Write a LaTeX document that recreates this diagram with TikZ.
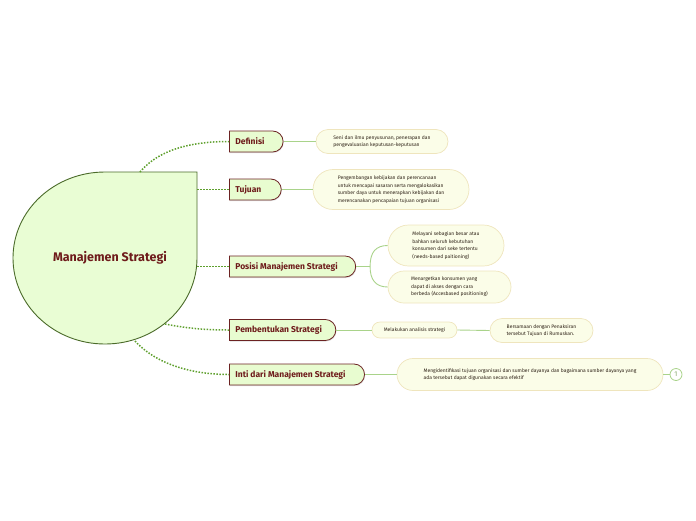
\documentclass[tikz,border=0pt]{standalone}
\usepackage{fontspec}
\setmainfont{Fira Sans}
\usetikzlibrary{shapes.misc,shadows}
\definecolor{cfill}{HTML}{E9FDD4}
\definecolor{cborder}{HTML}{4B6B2A}
\definecolor{bfill}{HTML}{E8FCD0}
\definecolor{bborder}{HTML}{6B2222}
\definecolor{btext}{HTML}{6E1B1B}
\definecolor{dotgreen}{HTML}{5FA02E}
\definecolor{lgreen}{HTML}{A9D38A}
\definecolor{lfill}{HTML}{FBFDE8}
\definecolor{lborder}{HTML}{EFE5BD}
\definecolor{ltext}{HTML}{2E2216}
\newcommand{\padr}[1]{\rule{#1}{0pt}}
\begin{document}
\begin{tikzpicture}[x=1pt,y=-1pt,
  branch/.style={rounded rectangle, rounded rectangle left arc=none, draw=bborder, fill=bfill,
    line width=0.8pt, font=\bfseries\fontsize{8.5}{10}\selectfont, text=btext,
    minimum height=21pt, inner xsep=6pt, anchor=west,
    drop shadow={opacity=0.25, shadow xshift=0.6pt, shadow yshift=-1pt}},
  leaf/.style={rounded rectangle, draw=lborder, fill=lfill, line width=0.7pt,
    font=\fontsize{5}{7.5}\selectfont, text=ltext, align=left, inner sep=0pt},
  dotcon/.style={draw=dotgreen, line width=1.5pt, dash pattern=on 1.5pt off 1.5pt},
  leafcon/.style={draw=lgreen, line width=0.9pt}]
\useasboundingbox (0,0) rectangle (696,520);
% central shape
\filldraw[fill=cfill, draw=cborder, line width=0.9pt]
  (197,172) -- (197,258) .. controls (197,305.5) and (155.8,344) .. (105,344)
  .. controls (54.2,344) and (13,305.5) .. (13,258)
  .. controls (13,210.5) and (54.2,172) .. (105,172) -- cycle;
\node[font=\bfseries\fontsize{12.5}{14}\selectfont, text=btext] (center) at (110,258) {Manajemen Strategi};
\coordinate (c1) at (140,172);
\coordinate (c2) at (197,189.5);
\coordinate (c3) at (197,266.5);
\coordinate (c4) at (165,324);
\coordinate (c5) at (135,341);
% branches
\node[branch] (def) at (229,141.5) {Definisi\padr{12pt}};
\node[branch] (tuj) at (229,189.5) {Tujuan\padr{13pt}};
\node[branch] (pos) at (229,266.5) {Posisi Manajemen Strategi\padr{11pt}};
\node[branch] (pem) at (229,330) {Pembentukan Strategi\padr{7pt}};
\node[branch] (inti) at (229,374.5) {Inti dari Manajemen Strategi\padr{12pt}};
% dotted connectors
\draw[dotcon] (c1) .. controls (160,148) and (195,141.5) .. (def.west);
\draw[dotcon] (c2) -- (tuj.west);
\draw[dotcon] (c3) -- (pos.west);
\draw[dotcon] (c4) .. controls (190,329) and (210,330) .. (pem.west);
\draw[dotcon] (c5) .. controls (160,368) and (200,374.5) .. (inti.west);
% leaves
\node[leaf, minimum width=132pt, minimum height=24pt] (d1) at (382,141.5)
  {Seni dan ilmu penyusunan, penerapan dan\\pengevaluasian keputusan-keputusan};
\node[leaf, minimum width=156pt, minimum height=40pt] (t1) at (391,189.5)
  {Pengembangan kebijakan dan perencanaan\\untuk mencapai sasaran serta mengalokasikan\\sumber daya untuk menerapkan kebijakan dan\\merencanakan pencapaian tujuan organisasi};
\node[leaf, minimum width=116pt, minimum height=41pt] (p1) at (446,245.5)
  {Melayani sebagian besar atau\\bahkan seluruh kebutuhan\\konsumen dari seke tertentu\\(needs-based paitioning)};
\node[leaf, minimum width=123pt, minimum height=32pt] (p2) at (449.5,287)
  {Menargetkan konsumen yang\\dapat di akses dengan cara\\berbeda (Accesbased positioning)};
\node[leaf, minimum width=85pt, minimum height=16pt] (b1) at (414.5,330)
  {Melakukan analisis strategi};
\node[leaf, minimum width=103pt, minimum height=24pt] (b2) at (541.5,330.5)
  {Bersamaan dengan Penaksiran\\tersebut Tujuan di Rumuskan.};
\node[leaf, minimum width=266pt, minimum height=32pt] (i1) at (530,374.5)
  {Mengidentifikasi tujuan organisasi dan sumber dayanya dan bagaimana sumber dayanya yang\\ada tersebut dapat digunakan secara efektif};
\node[circle, draw=lgreen, line width=0.8pt, fill=white, minimum size=12pt, inner sep=0pt,
  font=\fontsize{7}{8}\selectfont, text=lgreen!80!black] (n1) at (676,374.5) {1};
% leaf connectors
\draw[leafcon] (def.east) -- (d1.west);
\draw[leafcon] (tuj.east) -- (t1.west);
\draw[leafcon] (pos.east) -- ++(14,0) coordinate (sp);
\draw[leafcon] (sp) .. controls (370,252) and (376,245.5) .. (p1.west);
\draw[leafcon] (sp) .. controls (370,280) and (376,287) .. (p2.west);
\draw[leafcon] (pem.east) -- (b1.west);
\draw[leafcon] (b1.east) -- (b2.west);
\draw[leafcon] (inti.east) -- (i1.west);
\draw[leafcon] (i1.east) -- (n1.west);
\end{tikzpicture}
\end{document}
